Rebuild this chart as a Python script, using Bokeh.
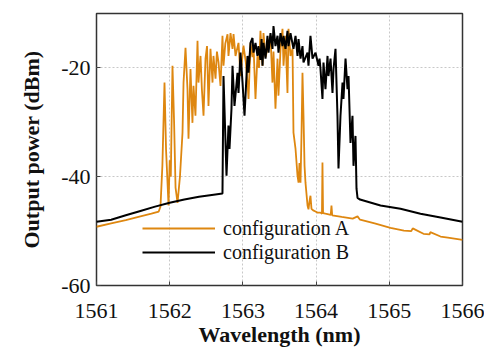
from bokeh.plotting import figure
from bokeh.models import Range1d, FixedTicker, Legend, LegendItem
from bokeh.embed import file_html
from bokeh.resources import INLINE

# configuration A (orange)
wl_a = [1561.00, 1561.20, 1561.40, 1561.60, 1561.75, 1561.85, 1561.874, 1561.90, 1561.929, 1561.95,
        1561.984, 1562.00, 1562.015, 1562.038, 1562.06, 1562.08, 1562.107, 1562.14, 1562.175, 1562.189,
        1562.216, 1562.243, 1562.257, 1562.284, 1562.311, 1562.325, 1562.352, 1562.380, 1562.393, 1562.421,
        1562.440, 1562.462, 1562.489, 1562.510, 1562.530, 1562.557, 1562.585, 1562.598, 1562.626, 1562.645,
        1562.667, 1562.694, 1562.721, 1562.735, 1562.760, 1562.790, 1562.803, 1562.831, 1562.858, 1562.872,
        1562.899, 1562.940, 1562.967, 1563.008, 1563.040, 1563.063, 1563.077, 1563.104, 1563.130, 1563.145,
        1563.172, 1563.199, 1563.220, 1563.240, 1563.268, 1563.281, 1563.310, 1563.336, 1563.377, 1563.404,
        1563.418, 1563.445, 1563.473, 1563.486, 1563.514, 1563.541, 1563.555, 1563.582, 1563.609, 1563.623,
        1563.650, 1563.678, 1563.691, 1563.719, 1563.746, 1563.760, 1563.773, 1563.787, 1563.801, 1563.814,
        1563.828, 1563.842, 1563.855, 1563.883, 1563.896, 1563.910, 1563.923, 1563.937, 1563.960, 1563.992,
        1564.019, 1564.060, 1564.080, 1564.087, 1564.095, 1564.128, 1564.200, 1564.210, 1564.220, 1564.350,
        1564.500, 1564.566, 1564.600, 1564.800, 1565.016, 1565.200, 1565.300, 1565.320, 1565.467, 1565.550,
        1565.560, 1565.700, 1565.800, 1566.000]
pw_a = [-49.2, -48.6, -48.0, -47.3, -46.8, -46.4, -45.5, -38.0, -22.7, -35.0,
        -45.3, -37.0, -40.0, -19.6, -30.0, -42.0, -44.8, -40.0, -31.9, -22.7,
        -16.3, -23.9, -33.0, -20.2, -30.1, -23.3, -28.8, -15.0, -22.7, -17.8,
        -24.0, -28.8, -18.3, -16.0, -27.0, -16.5, -22.7, -17.8, -22.0, -17.0,
        -19.0, -23.3, -14.1, -19.6, -15.5, -13.8, -17.8, -13.6, -16.5, -13.8,
        -17.8, -15.4, -21.5, -15.9, -19.0, -22.7, -25.7, -15.4, -18.0, -15.9,
        -25.7, -17.8, -20.0, -13.2, -19.6, -13.6, -18.0, -16.5, -14.1, -22.7,
        -17.0, -27.5, -18.3, -25.1, -16.5, -12.8, -19.6, -14.1, -24.6, -12.8,
        -17.8, -16.5, -31.9, -34.9, -39.8, -41.1, -37.5, -41.1, -32.0, -20.9,
        -28.8, -38.0, -41.1, -45.3, -46.0, -44.5, -43.5, -45.9, -46.2, -46.4,
        -46.6, -46.6, -46.8, -37.4, -46.7, -46.8, -47.0, -45.3, -47.1, -47.4,
        -47.7, -47.3, -47.9, -48.6, -49.4, -49.9, -50.0, -49.5, -50.5, -50.6,
        -50.2, -51.0, -51.2, -51.6]

# configuration B (black)
wl_b = [1561.00, 1561.20, 1561.40, 1561.60, 1561.80, 1562.00, 1562.20, 1562.40, 1562.60, 1562.721,
        1562.735, 1562.776, 1562.803, 1562.817, 1562.844, 1562.858, 1562.885, 1562.926, 1562.940, 1562.967,
        1562.995, 1563.022, 1563.063, 1563.077, 1563.104, 1563.131, 1563.145, 1563.172, 1563.199, 1563.213,
        1563.240, 1563.255, 1563.268, 1563.281, 1563.309, 1563.336, 1563.350, 1563.377, 1563.404, 1563.418,
        1563.445, 1563.473, 1563.486, 1563.514, 1563.541, 1563.555, 1563.582, 1563.609, 1563.623, 1563.650,
        1563.691, 1563.719, 1563.746, 1563.760, 1563.787, 1563.814, 1563.828, 1563.883, 1563.896, 1563.923,
        1563.951, 1563.992, 1564.033, 1564.047, 1564.060, 1564.087, 1564.101, 1564.128, 1564.156, 1564.169,
        1564.197, 1564.224, 1564.238, 1564.265, 1564.292, 1564.306, 1564.333, 1564.361, 1564.374, 1564.402,
        1564.429, 1564.443, 1564.470, 1564.497, 1564.511, 1564.538, 1564.552, 1564.566, 1564.600, 1564.880,
        1565.153, 1565.426, 1565.700, 1566.000]
pw_b = [-48.3, -47.9, -47.1, -46.3, -45.5, -44.8, -44.2, -43.7, -43.3, -43.1,
        -21.5, -39.8, -30.6, -34.9, -27.5, -19.6, -27.0, -20.9, -24.6, -17.2,
        -22.7, -28.8, -17.8, -20.9, -15.4, -14.5, -17.2, -15.4, -17.8, -16.0,
        -18.5, -14.7, -19.6, -15.4, -18.3, -14.1, -17.2, -13.6, -16.5, -12.3,
        -16.0, -14.1, -17.2, -13.6, -16.0, -14.1, -16.5, -13.2, -16.0, -13.6,
        -16.5, -14.1, -17.8, -14.7, -18.3, -16.0, -19.0, -17.2, -19.6, -14.1,
        -18.3, -17.2, -19.6, -18.3, -20.2, -25.7, -19.0, -23.9, -17.8, -21.5,
        -18.3, -24.6, -20.2, -16.5, -28.8, -38.5, -28.8, -22.7, -25.7, -18.3,
        -23.9, -21.5, -33.8, -28.8, -38.0, -32.5, -42.2, -43.9, -44.2, -45.3,
        -45.9, -46.8, -47.5, -48.3]

x_ticks = [1561, 1562, 1563, 1564, 1565, 1566]
y_ticks = [-60, -40, -20]
y_tick_labels = ["-60", "-40", "-20"]
labels = ["configuration A", "configuration B"]
colors = ["#DE8710", "#000000"]

FONT = "Liberation Serif"

p = figure(frame_width=366, frame_height=272, output_backend="svg", toolbar_location=None,
           x_range=Range1d(1561, 1566), y_range=Range1d(-60, -10),
           min_border_left=96, min_border_right=22, min_border_top=13, min_border_bottom=50)

ra = p.line(wl_a, pw_a, line_color=colors[0], line_width=1.8)
rb = p.line(wl_b, pw_b, line_color=colors[1], line_width=2.0)

p.xaxis.ticker = FixedTicker(ticks=x_ticks)
p.yaxis.ticker = FixedTicker(ticks=y_ticks)
p.yaxis.major_label_overrides = {t: s for t, s in zip(y_ticks, y_tick_labels)}
for ax in (p.xaxis[0], p.yaxis[0]):
    ax.major_label_text_font = FONT
    ax.major_label_text_font_size = "22px"
    ax.major_label_text_color = "#111111"
    ax.axis_label_text_font = FONT
    ax.axis_label_text_font_size = "22px"
    ax.axis_label_text_font_style = "bold"
    ax.axis_label_text_color = "#111111"
    ax.minor_tick_line_color = None
    ax.major_tick_in = 4
    ax.major_tick_out = 0
    ax.major_tick_line_color = "#444444"
    ax.axis_line_color = None
p.xaxis.axis_label = "Wavelength (nm)"
p.yaxis.axis_label = "Output power (dBm)"
p.xaxis.major_label_standoff = 18
p.yaxis.major_label_standoff = 6
p.xaxis.axis_label_standoff = 1
p.yaxis.axis_label_standoff = 14

p.grid.grid_line_color = "#c8c8c8"
p.grid.grid_line_dash = "2 2"
p.grid.grid_line_width = 1
p.outline_line_color = "#333333"
p.outline_line_width = 1.5
p.background_fill_color = "white"

legend = Legend(items=[LegendItem(label=labels[0], renderers=[ra]),
                       LegendItem(label=labels[1], renderers=[rb])],
                location=(46, 21), padding=0, margin=0, spacing=0,
                glyph_width=73, glyph_height=24, label_height=24,
                label_standoff=8, border_line_alpha=0, background_fill_alpha=0,
                label_text_font=FONT, label_text_font_size="20px",
                label_text_color="#111111")
p.add_layout(legend, "center")

open("out.html", "w").write(file_html(p, INLINE))
